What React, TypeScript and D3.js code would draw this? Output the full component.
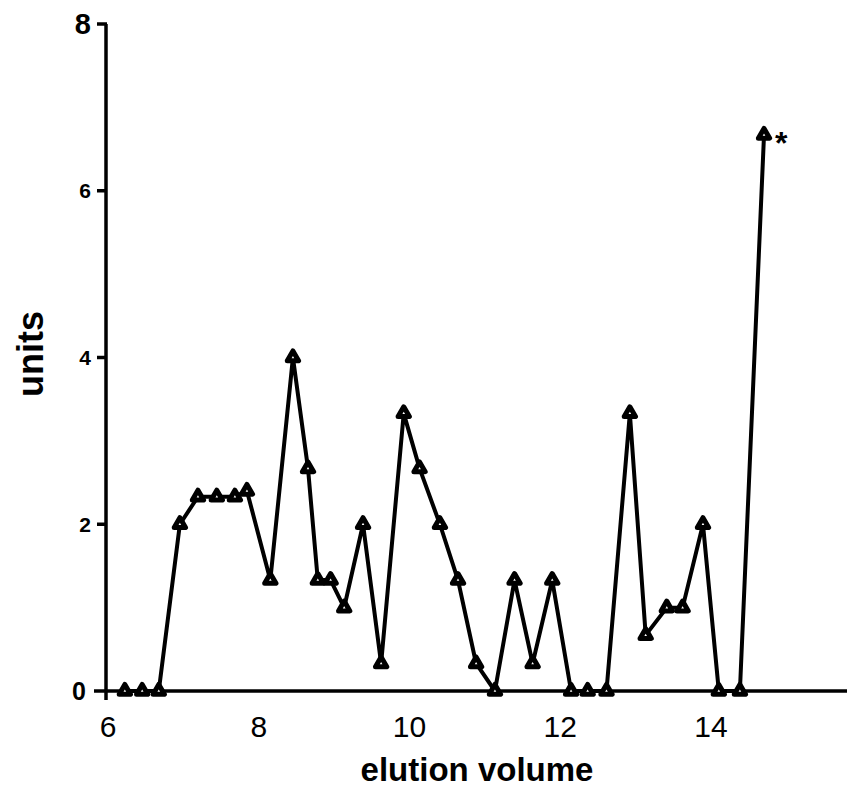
import React, { useEffect, useRef } from 'react'
import * as d3 from 'd3'

// elution profile, values (units come in thirds)
const volumes = [
  6.25, 6.48, 6.7, 6.98, 7.22, 7.47, 7.71, 7.87, 8.18, 8.48, 8.68, 8.81,
  8.98, 9.16, 9.41, 9.65, 9.95, 10.16, 10.43, 10.67, 10.91, 11.16, 11.42, 11.66,
  11.92, 12.17, 12.39, 12.64, 12.95, 13.16, 13.44, 13.65, 13.92, 14.13, 14.41, 14.73
]
const units = [
  0, 0, 0, 2, 2.33, 2.33, 2.33, 2.4, 1.33, 4, 2.67, 1.33,
  1.33, 1, 2, 0.33, 3.33, 2.67, 2, 1.33, 0.33, 0, 1.33, 0.33,
  1.33, 0, 0, 0, 3.33, 0.67, 1, 1, 2, 0, 0, 6.67
]
const xTicks = [6, 8, 10, 12, 14]
const yTicks = [0, 2, 4, 6, 8]

const width = 847
const height = 790
const font = 'Liberation Sans, Arial, sans-serif'

function App () {
  const ref = useRef(null)

  useEffect(() => {
    const svg = d3.select(ref.current)
    svg.selectAll('*').remove()

    const x = d3.scaleLinear().domain([6, 14]).range([106, 709])
    const y = d3.scaleLinear().domain([0, 8]).range([691, 24])
    const data = volumes.map((v, i) => ({ v, u: units[i] }))

    // axes (heavy strokes like the pen-drawn original)
    svg.append('line')
      .attr('x1', x(6)).attr('x2', x(6))
      .attr('y1', y(8)).attr('y2', y(0) + 9)
      .attr('stroke', '#000').attr('stroke-width', 3.5)
    svg.append('line')
      .attr('x1', x(6) - 12).attr('x2', width)
      .attr('y1', y(0)).attr('y2', y(0))
      .attr('stroke', '#000').attr('stroke-width', 3.5)

    svg.selectAll('.ytick')
      .data(yTicks.filter(t => t > 0))
      .enter().append('line')
      .attr('x1', x(6) - 9).attr('x2', x(6) + 1)
      .attr('y1', d => y(d)).attr('y2', d => y(d))
      .attr('stroke', '#000').attr('stroke-width', 3.5)

    const ySize = d => d === 8 ? 29 : d === 0 ? 25 : 21
    svg.selectAll('.ylab')
      .data(yTicks)
      .enter().append('text')
      .attr('x', d => d === 0 ? 86 : 91)
      .attr('y', d => y(d) + ySize(d) * 0.36)
      .attr('text-anchor', 'end')
      .attr('font-family', font)
      .attr('font-weight', 'bold')
      .attr('font-size', ySize)
      .text(d => d)

    svg.selectAll('.xlab')
      .data(xTicks)
      .enter().append('text')
      .attr('x', d => x(d) + 2)
      .attr('y', 737)
      .attr('text-anchor', 'middle')
      .attr('font-family', font)
      .attr('font-size', 30)
      .text(d => d)

    svg.append('text')
      .attr('x', 477).attr('y', 781)
      .attr('text-anchor', 'middle')
      .attr('font-family', font)
      .attr('font-weight', 'bold')
      .attr('font-size', 33)
      .text('elution volume')

    svg.append('text')
      .attr('transform', 'translate(43,354) rotate(-90)')
      .attr('text-anchor', 'middle')
      .attr('font-family', font)
      .attr('font-weight', 'bold')
      .attr('font-size', 36)
      .text('units')

    // profile line + open triangles
    const line = d3.line().x(d => x(d.v)).y(d => y(d.u))
    svg.append('path')
      .datum(data)
      .attr('d', line)
      .attr('fill', 'none')
      .attr('stroke', '#000')
      .attr('stroke-width', 4)
      .attr('stroke-linejoin', 'round')

    const tri = d3.symbol().type(d3.symbolTriangle).size(55)
    svg.selectAll('.pt')
      .data(data)
      .enter().append('path')
      .attr('transform', d => 'translate(' + x(d.v) + ',' + y(d.u) + ')')
      .attr('d', tri)
      .attr('fill', '#fff')
      .attr('stroke', '#000')
      .attr('stroke-width', 5)
      .attr('stroke-linejoin', 'round')

    const last = data[data.length - 1]
    svg.append('text')
      .attr('x', x(last.v) + 11).attr('y', y(last.u) + 19)
      .attr('font-family', font)
      .attr('font-weight', 'bold')
      .attr('font-size', 32)
      .text('*')
  }, [])

  return (
    <svg ref={ref} width={width} height={height}
      style={{ position: 'absolute', left: 0, top: 0, background: '#fff' }} />
  )
}

export default App
